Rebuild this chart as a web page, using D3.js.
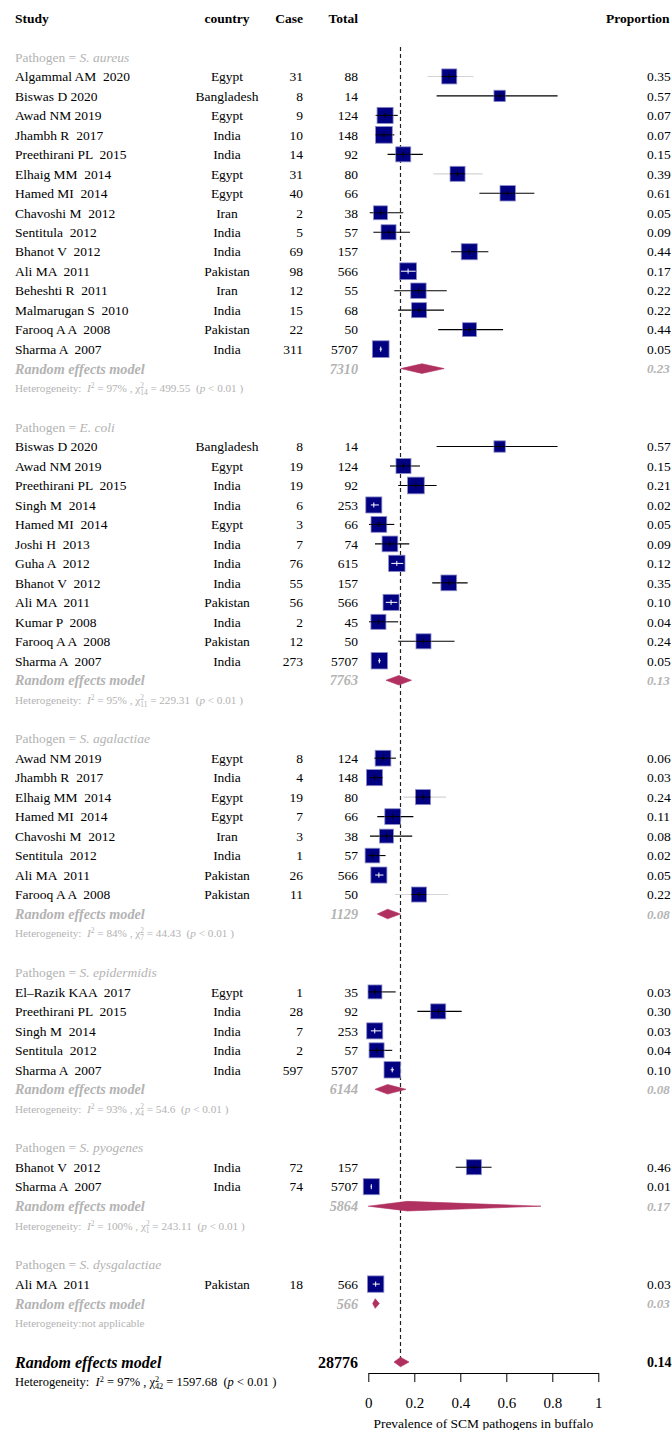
<!DOCTYPE html>
<html lang="en">
<head>
<meta charset="UTF-8" />
<script src="https://d3js.org/d3.v7.min.js"></script>
<title>Forest plot</title>
<style>
    body {
        margin: 0;
        overflow: hidden;
        background-color: white;
    }

    text {
        font-family: "Liberation Serif", "Times New Roman", serif;
        font-size: 13.5px;
        white-space: pre;
    }

    .het {
        font-size: 11.2px;
    }

    .re {
        font-size: 14.2px;
        font-weight: bold;
        font-style: italic;
    }

    .tick text {
        font-size: 15px;
    }
</style>
</head>
<body>
<script>
    // ---- data ----
    const pathogens = ["S. aureus", "E. coli", "S. agalactiae", "S. epidermidis", "S. pyogenes", "S. dysgalactiae"];
    const groupSizes = [15, 12, 8, 5, 2, 1];

    const studyLabels = [
        "Algammal AM  2020", "Biswas D 2020", "Awad NM 2019", "Jhambh R  2017", "Preethirani PL  2015",
        "Elhaig MM  2014", "Hamed MI  2014", "Chavoshi M  2012", "Sentitula  2012", "Bhanot V  2012",
        "Ali MA  2011", "Beheshti R  2011", "Malmarugan S  2010", "Farooq A A  2008", "Sharma A  2007",
        "Biswas D 2020", "Awad NM 2019", "Preethirani PL  2015", "Singh M  2014", "Hamed MI  2014",
        "Joshi H  2013", "Guha A  2012", "Bhanot V  2012", "Ali MA  2011", "Kumar P  2008",
        "Farooq A A  2008", "Sharma A  2007",
        "Awad NM 2019", "Jhambh R  2017", "Elhaig MM  2014", "Hamed MI  2014", "Chavoshi M  2012",
        "Sentitula  2012", "Ali MA  2011", "Farooq A A  2008",
        "El\u2013Razik KAA  2017", "Preethirani PL  2015", "Singh M  2014", "Sentitula  2012", "Sharma A  2007",
        "Bhanot V  2012", "Sharma A  2007",
        "Ali MA  2011"
    ];
    const countries = [
        "Egypt", "Bangladesh", "Egypt", "India", "India", "Egypt", "Egypt", "Iran", "India", "India",
        "Pakistan", "Iran", "India", "Pakistan", "India",
        "Bangladesh", "Egypt", "India", "India", "Egypt", "India", "India", "India", "Pakistan", "India",
        "Pakistan", "India",
        "Egypt", "India", "Egypt", "Egypt", "Iran", "India", "Pakistan", "Pakistan",
        "Egypt", "India", "India", "India", "India",
        "India", "India",
        "Pakistan"
    ];
    const cases = [31, 8, 9, 10, 14, 31, 40, 2, 5, 69, 98, 12, 15, 22, 311,
        8, 19, 19, 6, 3, 7, 76, 55, 56, 2, 12, 273,
        8, 4, 19, 7, 3, 1, 26, 11,
        1, 28, 7, 2, 597,
        72, 74,
        18];
    const totals = [88, 14, 124, 148, 92, 80, 66, 38, 57, 157, 566, 55, 68, 50, 5707,
        14, 124, 92, 253, 66, 74, 615, 157, 566, 45, 50, 5707,
        124, 148, 80, 66, 38, 57, 566, 50,
        35, 92, 253, 57, 5707,
        157, 5707,
        566];
    const props = [0.352, 0.571, 0.073, 0.068, 0.152, 0.388, 0.606, 0.053, 0.088, 0.439, 0.173, 0.218, 0.221, 0.44, 0.054,
        0.571, 0.153, 0.207, 0.024, 0.046, 0.094, 0.124, 0.35, 0.099, 0.044, 0.24, 0.048,
        0.064, 0.027, 0.238, 0.106, 0.079, 0.018, 0.046, 0.22,
        0.029, 0.304, 0.028, 0.036, 0.104,
        0.459, 0.013,
        0.032];
    const ciLow = [0.257, 0.297, 0.032, 0.032, 0.084, 0.283, 0.483, 0.006, 0.022, 0.36, 0.142, 0.113, 0.13, 0.304, 0.049,
        0.297, 0.094, 0.13, 0.011, 0.003, 0.029, 0.1, 0.278, 0.076, 0.003, 0.13, 0.043,
        0.026, 0.007, 0.152, 0.039, 0.007, 0.0005, 0.03, 0.116,
        0.001, 0.213, 0.011, 0.004, 0.097,
        0.38, 0.01,
        0.019];
    const ciHigh = [0.457, 0.823, 0.128, 0.113, 0.237, 0.497, 0.722, 0.152, 0.181, 0.522, 0.206, 0.341, 0.329, 0.586, 0.06,
        0.823, 0.225, 0.297, 0.046, 0.113, 0.178, 0.152, 0.432, 0.126, 0.13, 0.375, 0.054,
        0.12, 0.062, 0.338, 0.196, 0.191, 0.075, 0.066, 0.348,
        0.119, 0.406, 0.056, 0.104, 0.112,
        0.536, 0.016,
        0.05];
    // overall weights (%), estimated from the square sizes
    const weights = [2.1, 1.2, 2.4, 2.6, 2.1, 2.1, 2.2, 1.8, 2.1, 2.4, 2.6, 2.2, 2.1, 1.8, 2.6,
        1.2, 2.1, 2.6, 2.4, 2.3, 2.3, 2.5, 2.3, 2.4, 2.1, 2.1, 2.5,
        2.3, 2.4, 2.1, 2.3, 1.8, 2.0, 2.4, 2.1,
        1.8, 2.1, 2.4, 2.1, 2.5,
        2.1, 2.4,
        2.5];
    // studies whose CI line is drawn light grey in the original
    const lightCI = [0, 5, 29, 34];

    const groupTotals = [7310, 7763, 1129, 6144, 5864, 566];
    const groupEst = [0.233, 0.133, 0.084, 0.084, 0.17, 0.03];
    const groupLow = [0.141, 0.077, 0.039, 0.029, 0.0, 0.019];
    const groupHigh = [0.33, 0.188, 0.14, 0.164, 0.751, 0.048];
    const groupI2 = ["97%", "95%", "84%", "93%", "100%", null];
    const groupDf = [14, 11, 7, 4, 1, null];
    const groupQ = ["499.55", "229.31", "44.43", "54.6", "243.11", null];

    const overallTotal = 28776;
    const overallEst = 0.14;
    const overallLow = 0.112;
    const overallHigh = 0.177;
    const overallI2 = "97%";
    const overallDf = 42;
    const overallQ = "1597.68";

    const xTicks = [0, 0.2, 0.4, 0.6, 0.8, 1];
    const xTitle = "Prevalence of SCM pathogens in buffalo";

    // ---- layout ----
    const width = 672;
    const height = 1430;
    const grey = "#b3b3b3";
    const maroon = "#b03060";
    const fmt = d3.format(".2f");

    const col = { study: 15, country: 227, cases: 303, total: 358, prop: 647 };

    const svg = d3.select("body").append("svg")
        .attr("width", width)
        .attr("height", height)
        .style("background", "white");

    const x = d3.scaleLinear().domain([0, 1]).range([368.3, 598.3]);
    const yLine = d3.scaleLinear().domain([0, 69]).range([18, 1362]); // one unit per text line
    const side = d3.scaleSqrt().domain([0, d3.max(weights)]).range([0, 16.7]);

    // work out which line each element sits on
    const studyRows = [];
    const groupRows = [];
    let line = 2, k = 0;
    groupSizes.forEach((n, g) => {
        const label = line++;
        for (let j = 0; j < n; j++) studyRows.push({ i: k++, line: line++ });
        groupRows.push({ g, label, re: line, het: line + 1 });
        line += 3;
    });
    const overallLine = line;

    const textAt = (x0, y0, anchor) => svg.append("text")
        .attr("x", x0).attr("y", y0).attr("dy", "0.35em")
        .attr("text-anchor", anchor || "start");

    // header
    [["Study", col.study, "start"], ["country", col.country, "middle"], ["Case", col.cases, "end"],
        ["Total", col.total, "end"], ["Proportion", 606, "start"]].forEach(([t, xx, a]) => {
        textAt(xx, yLine(0), a).attr("font-weight", "bold").text(t);
    });

    // reference line at the overall estimate
    svg.append("line")
        .attr("x1", x(overallEst)).attr("x2", x(overallEst))
        .attr("y1", 47).attr("y2", yLine(overallLine))
        .attr("stroke", "#222").attr("stroke-width", 1.2)
        .attr("stroke-dasharray", "4,3");

    // heterogeneity line
    function hetText(y0, i2, df, q, colour, size) {
        const t = textAt(col.study, y0).attr("class", "het").attr("fill", colour);
        if (size) t.style("font-size", size + "px");
        const small = (size || 11.2) * 0.66;
        if (i2 === null) {
            t.text("Heterogeneity:not applicable");
            return;
        }
        t.append("tspan").text("Heterogeneity:  ");
        t.append("tspan").attr("font-style", "italic").text("I");
        t.append("tspan").attr("font-size", small).attr("dy", -4).text("2");
        t.append("tspan").attr("dy", 4).text(` = ${i2} , `);
        t.append("tspan").text("\u03c7");
        t.append("tspan").attr("font-size", small).attr("dy", -4).text("2");
        t.append("tspan").attr("font-size", small).attr("dx", -small * 0.5).attr("dy", 7).text(df);
        t.append("tspan").attr("dy", -3).text(` = ${q}  (`);
        t.append("tspan").attr("font-style", "italic").text("p");
        t.append("tspan").text(" < 0.01 )");
    }

    function diamond(est, lo, hi, y0) {
        const h = 4.8;
        svg.append("path")
            .attr("d", `M${x(lo)},${y0}L${x(est)},${y0 - h}L${x(hi)},${y0}L${x(est)},${y0 + h}Z`)
            .attr("fill", maroon)
            .attr("stroke", maroon)
            .attr("stroke-width", 0.6);
    }

    // subgroup headers, summaries
    groupRows.forEach(r => {
        const lab = textAt(col.study, yLine(r.label)).attr("fill", grey);
        lab.append("tspan").text("Pathogen = ");
        lab.append("tspan").attr("font-style", "italic").text(pathogens[r.g]);

        const yRe = yLine(r.re);
        textAt(col.study, yRe).attr("class", "re").attr("fill", grey).text("Random effects model");
        textAt(col.total, yRe, "end").attr("class", "re").attr("fill", grey).text(groupTotals[r.g]);
        textAt(col.prop, yRe).attr("class", "re").style("font-size", "13px").attr("fill", grey)
            .text(fmt(groupEst[r.g]));
        diamond(groupEst[r.g], groupLow[r.g], groupHigh[r.g], yRe);

        hetText(yLine(r.het), groupI2[r.g], groupDf[r.g], groupQ[r.g], grey);
    });

    // studies
    studyRows.forEach(({ i, line: ln }) => {
        const y0 = yLine(ln);
        textAt(col.study, y0).text(studyLabels[i]);
        textAt(col.country, y0, "middle").text(countries[i]);
        textAt(col.cases, y0, "end").text(cases[i]);
        textAt(col.total, y0, "end").text(totals[i]);
        textAt(col.prop, y0).text(fmt(props[i]));

        const s = side(weights[i]);
        const cx = x(props[i]);
        const lo = x(ciLow[i]), hi = x(ciHigh[i]);
        const faded = lightCI.includes(i);

        svg.append("line")
            .attr("x1", lo).attr("x2", hi).attr("y1", y0).attr("y2", y0)
            .attr("stroke", faded ? "#d4d4d4" : "black").attr("stroke-width", 1.1);

        svg.append("rect")
            .attr("x", cx - s / 2).attr("y", y0 - s / 2)
            .attr("width", s).attr("height", s)
            .attr("fill", "#000080")
            .attr("stroke", "#8a8ac8").attr("stroke-width", 0.8);

        const inside = lo >= cx - s / 2 && hi <= cx + s / 2;
        const c = inside ? "white" : "black";
        svg.append("line")
            .attr("x1", Math.max(lo, cx - s / 2)).attr("x2", Math.min(hi, cx + s / 2))
            .attr("y1", y0).attr("y2", y0)
            .attr("stroke", c).attr("stroke-width", 1);
        svg.append("line")
            .attr("x1", cx).attr("x2", cx).attr("y1", y0 - 2.5).attr("y2", y0 + 2.5)
            .attr("stroke", c).attr("stroke-width", 1);
    });

    // overall
    const yOv = yLine(overallLine);
    textAt(col.study, yOv).attr("font-weight", "bold").attr("font-style", "italic")
        .style("font-size", "16px").text("Random effects model");
    textAt(col.total, yOv, "end").attr("font-weight", "bold").style("font-size", "16px").text(overallTotal);
    textAt(col.prop, yOv).attr("font-weight", "bold").style("font-size", "14px").text(fmt(overallEst));
    diamond(overallEst, overallLow, overallHigh, yOv);
    hetText(yLine(overallLine + 1), overallI2, overallDf, overallQ, "black", 12.5);

    // axis
    const axis = svg.append("g")
        .attr("transform", "translate(0,1373)")
        .call(d3.axisBottom(x).tickValues(xTicks).tickFormat(d3.format("~g"))
            .tickSize(9).tickSizeOuter(0).tickPadding(15));
    axis.attr("font-family", null).attr("font-size", null);
    axis.selectAll("line, path").attr("stroke", "black");

    textAt(x(0.5), 1423, "middle").style("font-size", "13.5px").text(xTitle);
</script>
</body>
</html>
